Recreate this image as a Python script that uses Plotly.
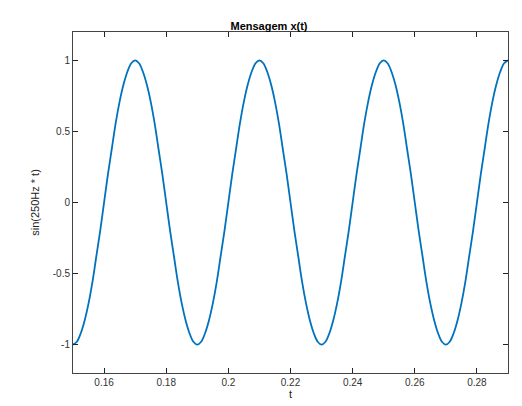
import numpy as np
import plotly.graph_objects as go

# samples every 0.00125 s
t = np.round(np.linspace(0.15, 0.29, 113), 5)
up = [-1, -0.98, -0.92, -0.83, -0.71, -0.56, -0.38, -0.2,
      0, 0.2, 0.38, 0.56, 0.71, 0.83, 0.92, 0.98]
down = [1, 0.98, 0.92, 0.83, 0.71, 0.56, 0.38, 0.2,
        0, -0.2, -0.38, -0.56, -0.71, -0.83, -0.92, -0.98]
x_vals = up + down + up + down + up + down + up + [1]

x_ticks = [0.16, 0.18, 0.2, 0.22, 0.24, 0.26, 0.28]
x_labels = ['0.16', '0.18', '0.2', '0.22', '0.24', '0.26', '0.28']
y_ticks = [-1, -0.5, 0, 0.5, 1]
y_labels = ['-1', '-0.5', '0', '0.5', '1']

fig = go.Figure(go.Scatter(
    x=t, y=x_vals, mode='lines', line_shape='spline',
    line=dict(color='#0072BD', width=1.8)
))

axis_style = dict(showline=True, linecolor='#444', linewidth=1, mirror='ticks',
                  ticks='inside', ticklen=5, tickcolor='#222', showgrid=False,
                  zeroline=False, tickfont=dict(size=10, color='#333'))

fig.update_layout(
    width=522, height=406,
    margin=dict(l=65, r=22, t=24, b=41),
    paper_bgcolor='white', plot_bgcolor='white',
    font=dict(family='Liberation Sans, Arial', color='#222'),
    showlegend=False,
    title=dict(text='<b>Mensagem x(t)</b>', x=0.5, xanchor='center', y=0.965, font=dict(size=11, color='#000')),
    xaxis=dict(range=[0.15, 0.29], tickvals=x_ticks, ticktext=x_labels,
               title=dict(text='t', standoff=2, font=dict(size=11)), **axis_style),
    yaxis=dict(range=[-1.2, 1.2], tickvals=y_ticks, ticktext=y_labels,
               title=dict(text='sin(250Hz * t)', standoff=10, font=dict(size=11)), **axis_style),
)

fig.write_html("out.html")
